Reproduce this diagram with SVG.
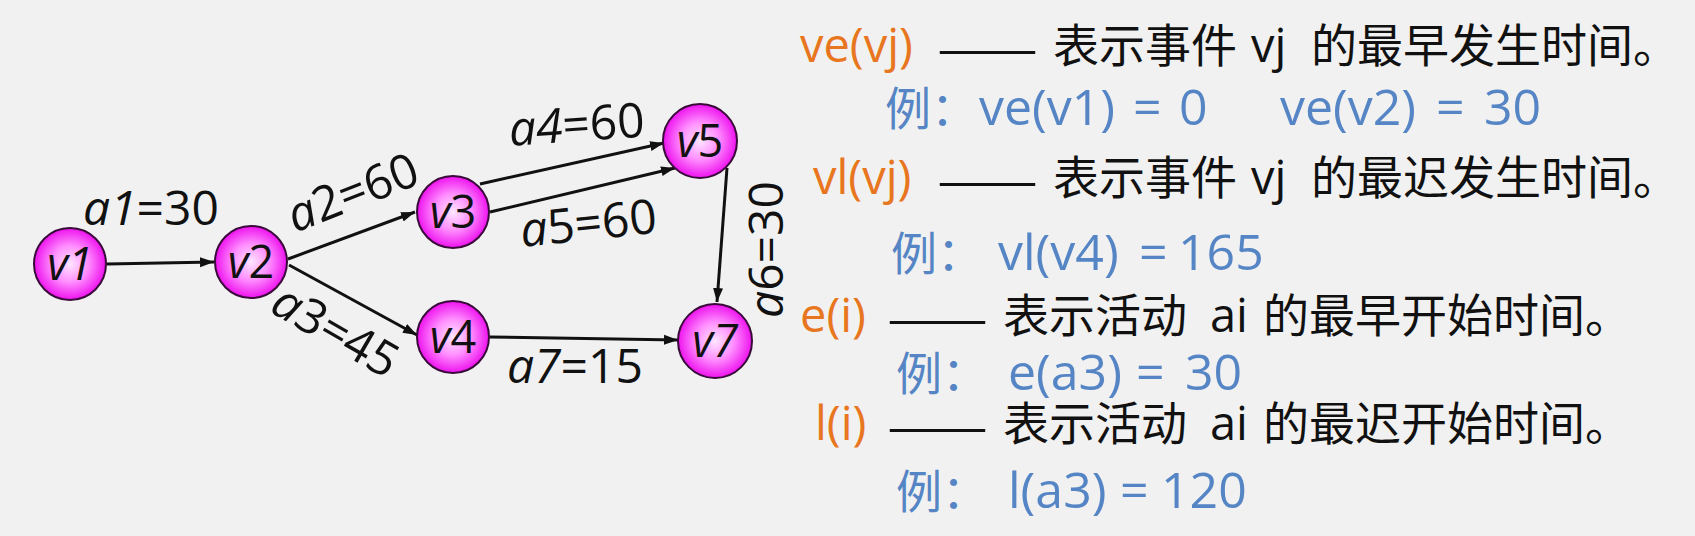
<svg xmlns="http://www.w3.org/2000/svg" width="1695" height="536" viewBox="0 0 1695 536">
<defs>
<radialGradient id="ball" cx="50%" cy="50%" r="50%">
<stop offset="0" stop-color="#FFE6FF"/>
<stop offset="0.5" stop-color="#FF90FF"/>
<stop offset="1" stop-color="#EE12EE"/>
</radialGradient>
<marker id="arr" markerUnits="userSpaceOnUse" markerWidth="15" markerHeight="12" refX="14" refY="6" orient="auto">
<path d="M0,1 L14,6 L0,11 z" fill="#111"/>
</marker>
</defs>
<style>
.node circle{fill:url(#ball);stroke:#3a0a3a;stroke-width:2}
.node text{font-family:"Open Sans","Liberation Sans",sans-serif;font-size:45px;fill:#111;text-anchor:middle}
.edge{stroke:#111;stroke-width:3;fill:none;marker-end:url(#arr)}
.lbl{font-family:"Open Sans","Liberation Sans",sans-serif;font-size:48px;fill:#111}
.it{font-style:italic}
.lat{font-family:"Open Sans","Noto Sans CJK SC",sans-serif;font-size:47px}
.ex{font-family:"Open Sans","Noto Sans CJK SC",sans-serif;font-size:50px}
.cjk{font-family:"Noto Sans CJK SC",sans-serif;font-size:46px}
.dash{font-family:"Noto Sans CJK SC",sans-serif;font-size:50px;fill:#111}
.or{fill:#E8761E}
.bl{fill:#5585C4}
.bk{fill:#111}
</style>
<rect width="1695" height="536" fill="#F1F1F1"/>

<g id="connectors">
<line class="edge" x1="107" y1="264" x2="214" y2="262"/>
<line class="edge" x1="288" y1="259" x2="415" y2="212"/>
<line class="edge" x1="289" y1="265" x2="417" y2="335"/>
<line class="edge" x1="480" y1="184" x2="664" y2="143"/>
<line class="edge" x1="490" y1="212" x2="675" y2="168"/>
<line class="edge" x1="727" y1="168" x2="717" y2="302"/>
<line class="edge" x1="490" y1="337" x2="678" y2="340"/>
<text class="lbl" x="83" y="225"><tspan class="it">a1</tspan>=30</text>
<text class="lbl" transform="translate(295,233) rotate(-21.5)"><tspan class="it">a</tspan>2=60</text>
<text class="lbl" transform="translate(268,311) rotate(30)"><tspan class="it">a</tspan>3=45</text>
<text class="lbl" transform="translate(510,146) rotate(-4)"><tspan class="it">a4</tspan>=60</text>
<text class="lbl" transform="translate(522,247) rotate(-6)"><tspan class="it">a</tspan>5=60</text>
<text class="lbl" transform="translate(783,318) rotate(-90)"><tspan class="it">a</tspan>6=30</text>
<text class="lbl" x="507" y="383"><tspan class="it">a7</tspan>=15</text>
</g>

<g id="v1" class="node"><circle cx="70" cy="264" r="36"/><text x="70" y="280"><tspan class="it">v1</tspan></text></g>
<g id="v2" class="node"><circle cx="251" cy="262" r="36"/><text x="251" y="278"><tspan class="it">v</tspan>2</text></g>
<g id="v3" class="node"><circle cx="453" cy="212" r="36"/><text x="453" y="228"><tspan class="it">v</tspan>3</text></g>
<g id="v4" class="node"><circle cx="453" cy="337" r="36"/><text x="453" y="353"><tspan class="it">v</tspan>4</text></g>
<g id="v5" class="node"><circle cx="700" cy="141" r="37"/><text x="700" y="157"><tspan class="it">v</tspan>5</text></g>
<g id="v7" class="node"><circle cx="715" cy="341" r="37"/><text x="715" y="357"><tspan class="it">v7</tspan></text></g>

<g id="legend">
<text class="dash" x="937" y="67" textLength="101" lengthAdjust="spacingAndGlyphs">——</text>
<text class="dash" x="937" y="199" textLength="101" lengthAdjust="spacingAndGlyphs">——</text>
<text class="dash" x="887" y="337" textLength="101" lengthAdjust="spacingAndGlyphs">——</text>
<text class="dash" x="887" y="445" textLength="101" lengthAdjust="spacingAndGlyphs">——</text>
<text y="62"><tspan class="lat or" x="800">ve(vj)</tspan><tspan class="cjk bk" x="1053">表示事件</tspan><tspan class="lat bk" x="1251">vj</tspan><tspan class="cjk bk" x="1311">的最早发生时间。</tspan></text>
<text y="125"><tspan class="cjk bl" x="885">例：</tspan><tspan class="ex bl" x="979">ve(v1)</tspan><tspan class="ex bl" x="1133">=</tspan><tspan class="ex bl" x="1179">0</tspan><tspan class="ex bl" x="1280">ve(v2)</tspan><tspan class="ex bl" x="1436">=</tspan><tspan class="ex bl" x="1484">30</tspan></text>
<text y="194"><tspan class="lat or" x="813">vl(vj)</tspan><tspan class="cjk bk" x="1053">表示事件</tspan><tspan class="lat bk" x="1251">vj</tspan><tspan class="cjk bk" x="1311">的最迟发生时间。</tspan></text>
<text y="270"><tspan class="cjk bl" x="891">例：</tspan><tspan class="ex bl" x="998">vl(v4)</tspan><tspan class="ex bl" x="1139">=</tspan><tspan class="ex bl" x="1178">165</tspan></text>
<text y="332"><tspan class="lat or" x="800">e(i)</tspan><tspan class="cjk bk" x="1003">表示活动</tspan><tspan class="lat bk" x="1210">ai</tspan><tspan class="cjk bk" x="1263">的最早开始时间。</tspan></text>
<text y="390"><tspan class="cjk bl" x="896">例：</tspan><tspan class="ex bl" x="1008">e(a3)</tspan><tspan class="ex bl" x="1136">=</tspan><tspan class="ex bl" x="1185">30</tspan></text>
<text y="440"><tspan class="lat or" x="815">l(i)</tspan><tspan class="cjk bk" x="1003">表示活动</tspan><tspan class="lat bk" x="1210">ai</tspan><tspan class="cjk bk" x="1263">的最迟开始时间。</tspan></text>
<text y="508"><tspan class="cjk bl" x="896">例：</tspan><tspan class="ex bl" x="1008">l(a3)</tspan><tspan class="ex bl" x="1120">=</tspan><tspan class="ex bl" x="1161">120</tspan></text>
</g>
</svg>
